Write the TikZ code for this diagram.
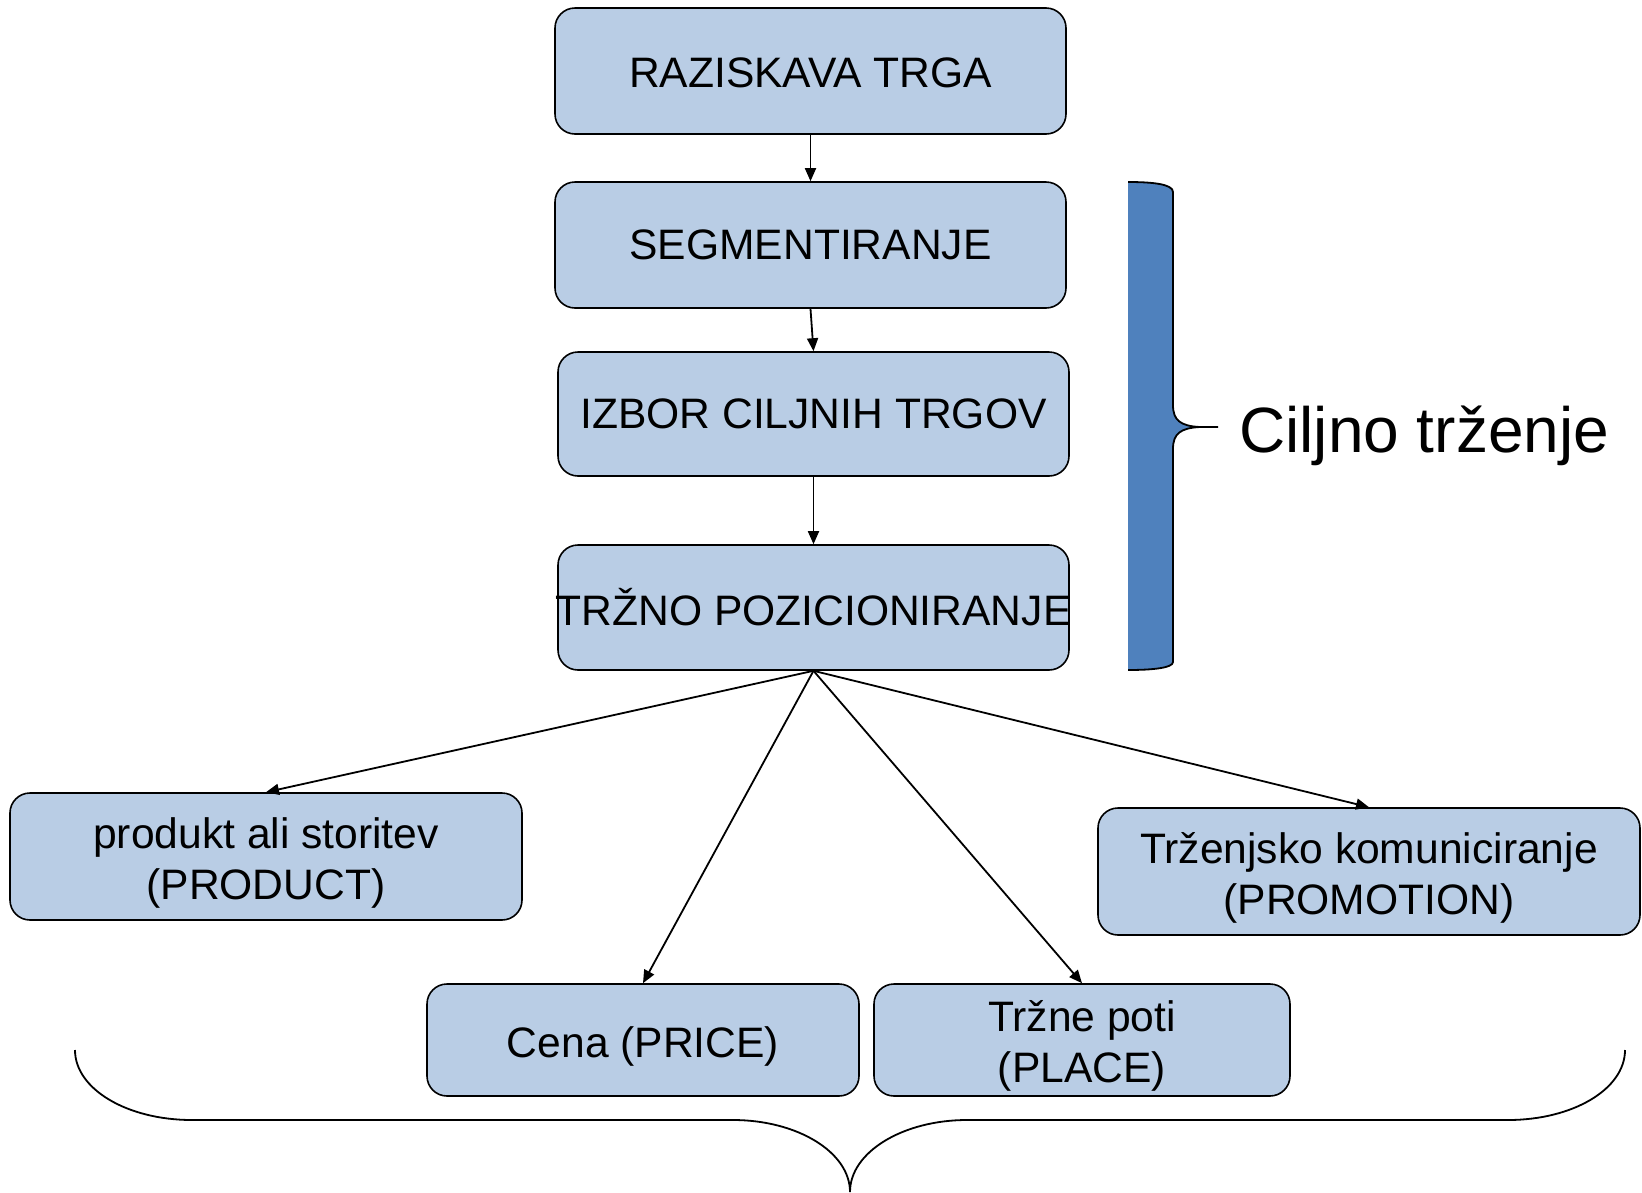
\documentclass[tikz,border=0pt]{standalone}
\usepackage{fontspec}
\setmainfont{Liberation Sans}
\usetikzlibrary{arrows.meta}
\definecolor{boxfill}{HTML}{B9CDE5}
\definecolor{barblue}{HTML}{4F81BD}
\newcommand\upperfont{\fontsize{42.6}{51}\selectfont}
\newcommand\lowerfont{\fontsize{42.6}{51}\selectfont}
% strut that lowers the text block of the bottom boxes a little
\newcommand\topstrut{\rule{0pt}{43pt}}
\begin{document}
\begin{tikzpicture}[x=1pt,y=-1pt,
  stagebox/.style={draw=black, line width=1.6pt, fill=boxfill,
    rounded corners=20pt, inner sep=0pt, align=center},
  flow/.style={line width=1.8pt, -{Triangle[length=13pt,width=11pt]}},
  bracket/.style={line width=1.8pt}]
\useasboundingbox (0,0) rectangle (1642,1192);

% process chain
\node[stagebox, minimum width=511pt, minimum height=126pt, font=\upperfont] (research) at (810.5,71) {\rule{0pt}{34pt}RAZISKAVA TRGA};
\node[stagebox, minimum width=511pt, minimum height=126pt, font=\upperfont] (segment) at (810.5,245) {SEGMENTIRANJE};
\node[stagebox, minimum width=511pt, minimum height=124pt, font=\upperfont] (target) at (813.5,414) {IZBOR CILJNIH TRGOV};
% the label runs slightly past the box edges, so it is set in a narrower box
\node[stagebox, minimum width=511pt, minimum height=125pt, font=\upperfont] (position) at (813.5,607.5) {\makebox[480pt]{TRŽNO POZICIONIRANJE}};

% marketing mix
\node[stagebox, minimum width=512pt, minimum height=127pt, font=\lowerfont] (product) at (266,856.5) {\topstrut produkt ali storitev\\(PRODUCT)};
\node[stagebox, minimum width=542pt, minimum height=127pt, font=\lowerfont] (promotion) at (1369,871.5) {\topstrut Trženjsko komuniciranje\\(PROMOTION)};
\node[stagebox, minimum width=432pt, minimum height=112pt, font=\lowerfont] (price) at (643,1040) {\topstrut Cena (PRICE)};
\node[stagebox, minimum width=416pt, minimum height=112pt, font=\lowerfont] (place) at (1082,1040) {\topstrut Tržne poti\\(PLACE)};

% connectors
\draw[flow] (research.south) -- (segment.north);
\draw[flow] (segment.south) -- (target.north);
\draw[flow] (target.south) -- (position.north);
\draw[flow] (position.south) -- (product.north);
\draw[flow] (position.south) -- (price.north);
\draw[flow] (position.south) -- (place.north);
\draw[flow] (position.south) -- (promotion.north);

% filled bracket for the targeting steps
\fill[barblue] (1128,182) .. controls (1152,182) and (1173,184) .. (1173,192)
  -- (1173,405) .. controls (1173,420) and (1180,426) .. (1200,427) -- (1218,427)
  -- (1200,427) .. controls (1180,428) and (1173,434) .. (1173,449)
  -- (1173,662) .. controls (1173,668) and (1152,670) .. (1128,670) -- cycle;
\draw[bracket] (1128,182) .. controls (1152,182) and (1173,184) .. (1173,192)
  -- (1173,405) .. controls (1173,420) and (1180,426) .. (1200,427) -- (1218,427)
  (1218,427) -- (1200,427) .. controls (1180,428) and (1173,434) .. (1173,449)
  -- (1173,662) .. controls (1173,668) and (1152,670) .. (1128,670);
\node[anchor=base west, font=\fontsize{64}{76}\selectfont, inner sep=0pt] (ciljno) at (1239,452) {Ciljno trženje};

% brace under the marketing mix
\draw[bracket] (75,1050) .. controls (75,1089) and (127,1120) .. (192,1120)
  -- (733,1120) .. controls (797,1120) and (850,1152) .. (850,1192)
  (850,1192) .. controls (850,1152) and (903,1120) .. (967,1120)
  -- (1508,1120) .. controls (1573,1120) and (1625,1089) .. (1625,1050);
\end{tikzpicture}
\end{document}
